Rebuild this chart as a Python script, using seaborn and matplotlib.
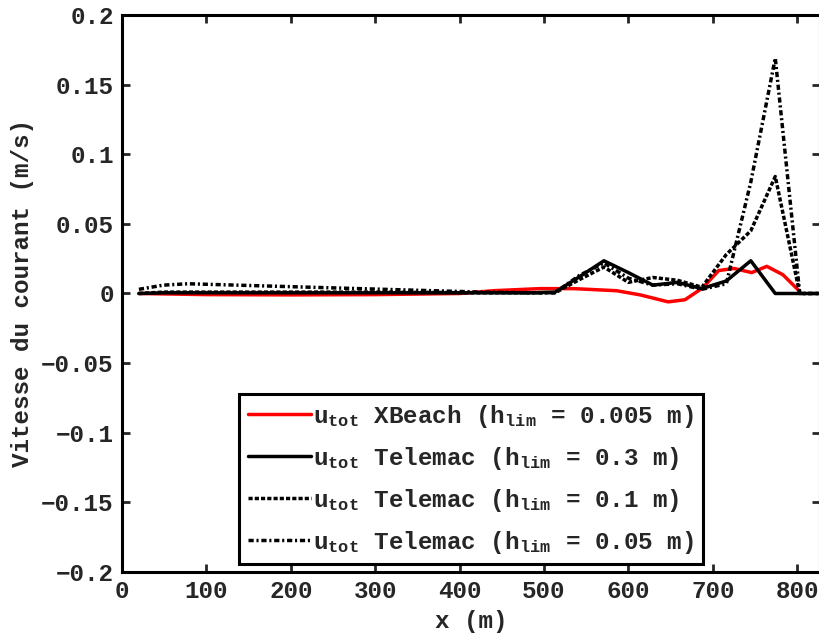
import matplotlib
matplotlib.use("Agg")
import matplotlib.pyplot as plt
import numpy as np
import pandas as pd
import seaborn as sns

# XBeach (h_lim = 0.005 m)
x_xb = [20, 100, 200, 300, 400, 440, 495, 535, 586, 614, 647, 667, 688, 707, 725, 746, 764, 783, 803]
u_xb = [0.0, -0.0008, -0.001, -0.0008, 0.0, 0.002, 0.0035, 0.0035, 0.002, -0.001, -0.006, -0.0045,
        0.004, 0.0165, 0.018, 0.015, 0.0195, 0.0135, 0.0015]

# Telemac mesh points
x_tm = [20, 49, 78, 107, 136, 165, 194, 223, 252, 281, 310, 339, 368, 397, 426, 455, 484, 513,
        542, 571, 600, 629, 658, 687, 716, 745, 774, 803, 832]
# h_lim = 0.3 m
u_tm03 = [0.0, 0.0005, 0.0005, 0.0005, 0.0005, 0.0005, 0.0005, 0.0005, 0.0005, 0.0005, 0.0005, 0.0005,
          0.0005, 0.0005, 0.0005, 0.0005, 0.0005, 0.001,
          0.012, 0.0235, 0.015, 0.006, 0.008, 0.0035, 0.009, 0.0235, 0.0, 0.0, 0.0]
# h_lim = 0.1 m
u_tm01 = [0.0, 0.001, 0.001, 0.001, 0.001, 0.001, 0.001, 0.001, 0.001, 0.001, 0.001, 0.0008,
          0.0008, 0.0006, 0.0005, 0.0005, 0.0005, 0.0005,
          0.010, 0.019, 0.008, 0.0115, 0.0095, 0.0045, 0.028, 0.045, 0.084, 0.0, 0.0]
# h_lim = 0.05 m
u_tm005 = [0.003, 0.006, 0.007, 0.0065, 0.006, 0.0055, 0.005, 0.0045, 0.004, 0.0035, 0.003, 0.0025,
           0.002, 0.0015, 0.001, 0.0008, 0.0005, 0.0005,
           0.013, 0.022, 0.011, 0.006, 0.007, 0.003, 0.007, 0.08, 0.169, 0.0, 0.0]

sns.set_theme(style="white")
plt.rcParams['font.family'] = ['Liberation Mono', 'DejaVu Sans Mono']
plt.rcParams['font.weight'] = 'bold'
plt.rcParams['axes.labelweight'] = 'bold'
plt.rcParams['mathtext.fontset'] = 'custom'
plt.rcParams['mathtext.rm'] = 'Liberation Mono:bold'
plt.rcParams['mathtext.it'] = 'Liberation Mono:bold'
plt.rcParams['mathtext.bf'] = 'Liberation Mono:bold'
plt.rcParams['mathtext.default'] = 'rm'

fs = 17.5
fig = plt.figure(figsize=(8.2, 6.37), dpi=100)
ax = fig.add_axes([0.1488, 0.102, 0.8512, 0.8745])

lw = 2.5
sns.lineplot(x=x_xb, y=u_xb, color='red', lw=lw, ax=ax,
             label=r'$u_{tot}$ XBeach ($h_{lim}$ = 0.005 m)')
sns.lineplot(x=x_tm, y=u_tm03, color='black', lw=lw, ax=ax,
             label=r'$u_{tot}$ Telemac ($h_{lim}$ = 0.3 m)')
sns.lineplot(x=x_tm, y=u_tm01, color='black', lw=lw, ax=ax, linestyle=(0, (1.2, 0.6)),
             label=r'$u_{tot}$ Telemac ($h_{lim}$ = 0.1 m)')
sns.lineplot(x=x_tm, y=u_tm005, color='black', lw=lw, ax=ax, linestyle=(0, (1.5, 0.8, 0.6, 0.8)),
             label=r'$u_{tot}$ Telemac ($h_{lim}$ = 0.05 m)')

ax.set_xlim(0, 827)
ax.set_ylim(-0.2, 0.2)
ax.set_xticks(np.arange(0, 801, 100))
ax.set_yticks(np.arange(-0.2, 0.201, 0.05))
ax.set_yticklabels(['\u22120.2', '\u22120.15', '\u22120.1', '\u22120.05', '0',
                    '0.05', '0.1', '0.15', '0.2'])
ax.tick_params(direction='in', length=6, width=2, labelsize=fs, top=True, right=True,
               bottom=True, left=True, pad=6)
for lab in ax.get_xticklabels() + ax.get_yticklabels():
    lab.set_fontweight('bold')
for s in ax.spines.values():
    s.set_linewidth(2.2)
    s.set_color('black')

ax.set_xlabel('x (m)', fontsize=fs, fontweight='bold', labelpad=5)
ax.set_ylabel('Vitesse du courant (m/s)', fontsize=fs, fontweight='bold', labelpad=5)

leg = ax.legend(loc='lower left', bbox_to_anchor=(0.168, 0.014), fontsize=17.5,
                frameon=True, fancybox=False, handlelength=2.6, handletextpad=0.1,
                labelspacing=0.62, borderpad=0.35, borderaxespad=0)
leg.get_frame().set_edgecolor('black')
leg.get_frame().set_linewidth(2.2)
leg.get_frame().set_alpha(1)

fig.savefig('out.png', dpi=100)
